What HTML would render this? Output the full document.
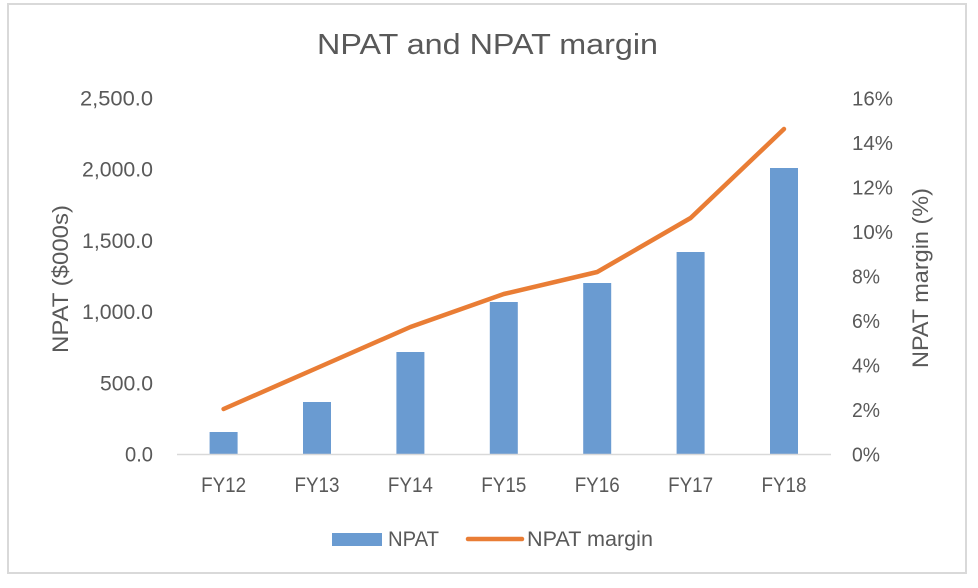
<!DOCTYPE html>
<html>
<head>
<meta charset="utf-8">
<style>
  html, body { margin:0; padding:0; background:#ffffff; }
  svg { display:block; }
  text { font-family: "Liberation Sans", Arial, sans-serif; fill:#595959; }
</style>
</head>
<body>
<svg width="978" height="588" viewBox="0 0 978 588" xmlns="http://www.w3.org/2000/svg">
  <rect x="0" y="0" width="978" height="588" fill="#ffffff"/>
  <rect x="8" y="4" width="958" height="569" fill="#ffffff" stroke="#d9d9d9" stroke-width="2"/>

  <!-- Title -->
  <text x="317" y="54" font-size="29" textLength="341" lengthAdjust="spacingAndGlyphs">NPAT and NPAT margin</text>

  <!-- Left axis labels -->
  <g font-size="21" text-anchor="end">
    <text x="153" y="105.5" textLength="73" lengthAdjust="spacingAndGlyphs">2,500.0</text>
    <text x="153" y="176.7" textLength="71" lengthAdjust="spacingAndGlyphs">2,000.0</text>
    <text x="153" y="247.9" textLength="71" lengthAdjust="spacingAndGlyphs">1,500.0</text>
    <text x="153" y="319.1" textLength="71" lengthAdjust="spacingAndGlyphs">1,000.0</text>
    <text x="153" y="390.3" textLength="53" lengthAdjust="spacingAndGlyphs">500.0</text>
    <text x="153" y="461.5" textLength="28" lengthAdjust="spacingAndGlyphs">0.0</text>
  </g>

  <!-- Right axis labels -->
  <g font-size="20">
    <text x="852" y="105.5" textLength="41" lengthAdjust="spacingAndGlyphs">16%</text>
    <text x="852" y="150" textLength="41" lengthAdjust="spacingAndGlyphs">14%</text>
    <text x="852" y="194.5" textLength="41" lengthAdjust="spacingAndGlyphs">12%</text>
    <text x="852" y="239" textLength="41" lengthAdjust="spacingAndGlyphs">10%</text>
    <text x="852" y="283.5" textLength="28" lengthAdjust="spacingAndGlyphs">8%</text>
    <text x="852" y="328" textLength="28" lengthAdjust="spacingAndGlyphs">6%</text>
    <text x="852" y="372.5" textLength="28" lengthAdjust="spacingAndGlyphs">4%</text>
    <text x="852" y="417" textLength="28" lengthAdjust="spacingAndGlyphs">2%</text>
    <text x="852" y="461.5" textLength="28" lengthAdjust="spacingAndGlyphs">0%</text>
  </g>

  <!-- Axis titles -->
  <text transform="translate(68,279) rotate(-90)" font-size="22" text-anchor="middle" textLength="148" lengthAdjust="spacingAndGlyphs">NPAT ($000s)</text>
  <text transform="translate(928,278) rotate(-90)" font-size="22" text-anchor="middle" textLength="180" lengthAdjust="spacingAndGlyphs">NPAT margin (%)</text>

  <!-- Bars -->
  <g fill="#6a9bd1">
    <rect x="209.6" y="432" width="28" height="22"/>
    <rect x="303" y="402" width="28" height="52"/>
    <rect x="396.4" y="352" width="28" height="102"/>
    <rect x="489.8" y="302" width="28" height="152"/>
    <rect x="583.2" y="283" width="28" height="171"/>
    <rect x="676.6" y="252" width="28" height="202"/>
    <rect x="770" y="168" width="28" height="286"/>
  </g>

  <!-- Category axis line -->
  <line x1="177" y1="454.5" x2="831" y2="454.5" stroke="#d9d9d9" stroke-width="1.5"/>

  <!-- Line series -->
  <polyline points="223.6,409 317,368 410.4,327 503.8,294 597.2,272 690.6,218 784,129"
    fill="none" stroke="#e97d35" stroke-width="4.5" stroke-linecap="round" stroke-linejoin="round"/>

  <!-- X labels -->
  <g font-size="21" text-anchor="middle">
    <text x="223.6" y="492" textLength="45" lengthAdjust="spacingAndGlyphs">FY12</text>
    <text x="317" y="492" textLength="45" lengthAdjust="spacingAndGlyphs">FY13</text>
    <text x="410.4" y="492" textLength="45" lengthAdjust="spacingAndGlyphs">FY14</text>
    <text x="503.8" y="492" textLength="45" lengthAdjust="spacingAndGlyphs">FY15</text>
    <text x="597.2" y="492" textLength="45" lengthAdjust="spacingAndGlyphs">FY16</text>
    <text x="690.6" y="492" textLength="45" lengthAdjust="spacingAndGlyphs">FY17</text>
    <text x="784" y="492" textLength="45" lengthAdjust="spacingAndGlyphs">FY18</text>
  </g>

  <!-- Legend -->
  <rect x="332" y="533" width="50" height="13" fill="#6a9bd1"/>
  <text x="388" y="546" font-size="21" textLength="51" lengthAdjust="spacingAndGlyphs">NPAT</text>
  <line x1="468" y1="539" x2="522" y2="539" stroke="#e97d35" stroke-width="4.5" stroke-linecap="round"/>
  <text x="527" y="546" font-size="21" textLength="126" lengthAdjust="spacingAndGlyphs">NPAT margin</text>
</svg>
</body>
</html>
